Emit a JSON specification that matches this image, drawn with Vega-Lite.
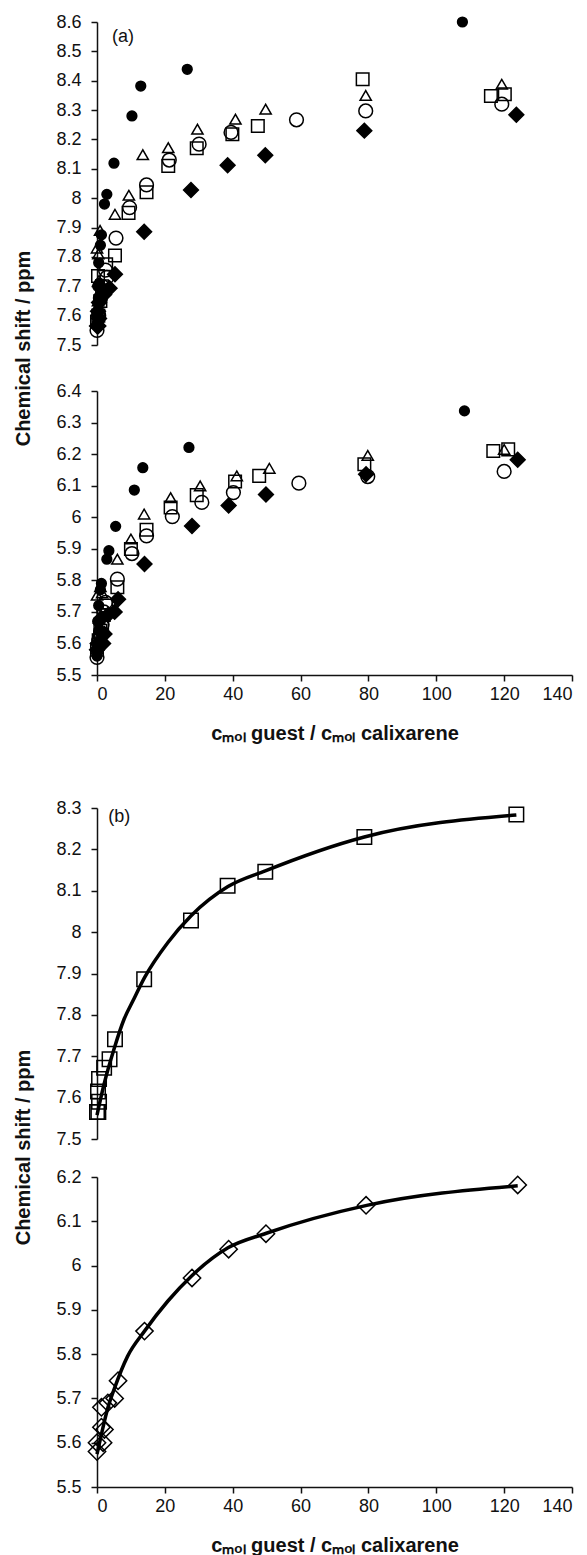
{
  "$schema": "https://vega.github.io/schema/vega-lite/v6.json",
  "background": "white",
  "padding": {"left": 13, "top": 13, "right": 5, "bottom": 0},
  "spacing": 56,
  "config": {
    "view": {"stroke": null},
    "font": "Liberation Sans",
    "axis": {
      "grid": false,
      "domainColor": "#111",
      "domainWidth": 1.5,
      "tickColor": "#111",
      "tickWidth": 1.5,
      "tickSize": 6,
      "labelFont": "Liberation Sans",
      "labelFontSize": 18,
      "labelColor": "#111",
      "titleFont": "Liberation Sans",
      "titleFontSize": 20,
      "titleFontWeight": "bold",
      "titleColor": "#111"
    },
    "axisY": {"labelPadding": 10},
    "axisX": {"labelPadding": 4, "titlePadding": 20}
  },
  "datasets": {
    "a_up": [
      {"x":0,"y":7.565,"s":"fd"},{"x":0.4,"y":7.565,"s":"fd"},{"x":0.6,"y":7.59,"s":"fd"},{"x":0.3,"y":7.615,"s":"fd"},{"x":0.6,"y":7.645,"s":"fd"},{"x":2.1,"y":7.672,"s":"fd"},{"x":3.7,"y":7.693,"s":"fd"},{"x":5.3,"y":7.741,"s":"fd"},{"x":13.9,"y":7.886,"s":"fd"},{"x":27.7,"y":8.028,"s":"fd"},{"x":38.5,"y":8.112,"s":"fd"},{"x":49.6,"y":8.146,"s":"fd"},{"x":78.8,"y":8.23,"s":"fd"},{"x":123.6,"y":8.284,"s":"fd"},
      {"x":0,"y":7.58,"s":"os"},{"x":0.4,"y":7.6,"s":"os"},{"x":1,"y":7.65,"s":"os"},{"x":1.5,"y":7.7,"s":"os"},{"x":0.3,"y":7.735,"s":"os"},{"x":2.7,"y":7.775,"s":"os"},{"x":5.3,"y":7.805,"s":"os"},{"x":9.3,"y":7.95,"s":"os"},{"x":14.6,"y":8.02,"s":"os"},{"x":21,"y":8.11,"s":"os"},{"x":29.4,"y":8.17,"s":"os"},{"x":39.9,"y":8.218,"s":"os"},{"x":47.4,"y":8.246,"s":"os"},{"x":78.3,"y":8.405,"s":"os"},{"x":116.1,"y":8.348,"s":"os"},{"x":120.2,"y":8.354,"s":"os"},
      {"x":0,"y":7.55,"s":"oc"},{"x":0.5,"y":7.6,"s":"oc"},{"x":1,"y":7.66,"s":"oc"},{"x":1.5,"y":7.7,"s":"oc"},{"x":2.9,"y":7.73,"s":"oc"},{"x":2.5,"y":7.755,"s":"oc"},{"x":5.6,"y":7.864,"s":"oc"},{"x":9.6,"y":7.968,"s":"oc"},{"x":14.6,"y":8.045,"s":"oc"},{"x":21.3,"y":8.13,"s":"oc"},{"x":30.1,"y":8.184,"s":"oc"},{"x":39.5,"y":8.224,"s":"oc"},{"x":58.8,"y":8.267,"s":"oc"},{"x":79.2,"y":8.297,"s":"oc"},{"x":119.3,"y":8.32,"s":"oc"},
      {"x":0,"y":7.58,"s":"ot"},{"x":0.3,"y":7.65,"s":"ot"},{"x":0.6,"y":7.72,"s":"ot"},{"x":0.4,"y":7.81,"s":"ot"},{"x":0,"y":7.83,"s":"ot"},{"x":0.9,"y":7.89,"s":"ot"},{"x":5.3,"y":7.945,"s":"ot"},{"x":9.4,"y":8.01,"s":"ot"},{"x":13.5,"y":8.148,"s":"ot"},{"x":21,"y":8.172,"s":"ot"},{"x":29.6,"y":8.235,"s":"ot"},{"x":40.8,"y":8.269,"s":"ot"},{"x":49.7,"y":8.303,"s":"ot"},{"x":79.2,"y":8.35,"s":"ot"},{"x":119.3,"y":8.388,"s":"ot"},
      {"x":0,"y":7.57,"s":"fc"},{"x":0.3,"y":7.6,"s":"fc"},{"x":0.5,"y":7.66,"s":"fc"},{"x":0.2,"y":7.7,"s":"fc"},{"x":0.7,"y":7.71,"s":"fc"},{"x":0.5,"y":7.78,"s":"fc"},{"x":1,"y":7.84,"s":"fc"},{"x":1.3,"y":7.875,"s":"fc"},{"x":2.2,"y":7.98,"s":"fc"},{"x":2.9,"y":8.013,"s":"fc"},{"x":5,"y":8.119,"s":"fc"},{"x":10.3,"y":8.28,"s":"fc"},{"x":12.9,"y":8.382,"s":"fc"},{"x":26.6,"y":8.439,"s":"fc"},{"x":107.7,"y":8.6,"s":"fc"}
    ],
    "a_lo": [
      {"x":0,"y":5.58,"s":"fd"},{"x":0.2,"y":5.6,"s":"fd"},{"x":1.8,"y":5.6,"s":"fd"},{"x":1.3,"y":5.635,"s":"fd"},{"x":2.2,"y":5.63,"s":"fd"},{"x":1.3,"y":5.68,"s":"fd"},{"x":3.2,"y":5.69,"s":"fd"},{"x":5.2,"y":5.7,"s":"fd"},{"x":6.2,"y":5.74,"s":"fd"},{"x":14,"y":5.852,"s":"fd"},{"x":28,"y":5.972,"s":"fd"},{"x":38.8,"y":6.037,"s":"fd"},{"x":49.8,"y":6.072,"s":"fd"},{"x":79.3,"y":6.136,"s":"fd"},{"x":124,"y":6.182,"s":"fd"},
      {"x":0,"y":5.58,"s":"os"},{"x":0.5,"y":5.61,"s":"os"},{"x":1,"y":5.64,"s":"os"},{"x":1.5,"y":5.66,"s":"os"},{"x":2,"y":5.69,"s":"os"},{"x":2.7,"y":5.72,"s":"os"},{"x":6,"y":5.778,"s":"os"},{"x":10,"y":5.899,"s":"os"},{"x":14.6,"y":5.96,"s":"os"},{"x":21.7,"y":6.031,"s":"os"},{"x":29.4,"y":6.07,"s":"os"},{"x":40.7,"y":6.113,"s":"os"},{"x":47.8,"y":6.131,"s":"os"},{"x":78.8,"y":6.168,"s":"os"},{"x":116.8,"y":6.21,"s":"os"},{"x":121.2,"y":6.215,"s":"os"},
      {"x":0,"y":5.556,"s":"oc"},{"x":0.5,"y":5.61,"s":"oc"},{"x":1,"y":5.63,"s":"oc"},{"x":1.5,"y":5.66,"s":"oc"},{"x":2,"y":5.7,"s":"oc"},{"x":2.5,"y":5.73,"s":"oc"},{"x":6,"y":5.804,"s":"oc"},{"x":10.3,"y":5.885,"s":"oc"},{"x":14.6,"y":5.941,"s":"oc"},{"x":22.2,"y":6.002,"s":"oc"},{"x":30.9,"y":6.047,"s":"oc"},{"x":40.2,"y":6.078,"s":"oc"},{"x":59.5,"y":6.108,"s":"oc"},{"x":79.8,"y":6.129,"s":"oc"},{"x":120,"y":6.145,"s":"oc"},
      {"x":0,"y":5.59,"s":"ot"},{"x":0.3,"y":5.63,"s":"ot"},{"x":0.6,"y":5.68,"s":"ot"},{"x":0,"y":5.753,"s":"ot"},{"x":1.5,"y":5.76,"s":"ot"},{"x":1,"y":5.78,"s":"ot"},{"x":6,"y":5.867,"s":"ot"},{"x":10,"y":5.931,"s":"ot"},{"x":13.9,"y":6.01,"s":"ot"},{"x":21.7,"y":6.062,"s":"ot"},{"x":30.4,"y":6.099,"s":"ot"},{"x":41.2,"y":6.131,"s":"ot"},{"x":50.8,"y":6.155,"s":"ot"},{"x":79.8,"y":6.196,"s":"ot"},{"x":120,"y":6.215,"s":"ot"},
      {"x":0,"y":5.56,"s":"fc"},{"x":0.3,"y":5.6,"s":"fc"},{"x":0.5,"y":5.64,"s":"fc"},{"x":0.2,"y":5.67,"s":"fc"},{"x":0.8,"y":5.67,"s":"fc"},{"x":0.5,"y":5.72,"s":"fc"},{"x":1,"y":5.77,"s":"fc"},{"x":1.3,"y":5.79,"s":"fc"},{"x":2.9,"y":5.867,"s":"fc"},{"x":3.5,"y":5.894,"s":"fc"},{"x":5.5,"y":5.971,"s":"fc"},{"x":11,"y":6.086,"s":"fc"},{"x":13.5,"y":6.157,"s":"fc"},{"x":27.1,"y":6.221,"s":"fc"},{"x":108.3,"y":6.337,"s":"fc"}
    ],
    "b_up": [
      {"x":0,"y":7.565},{"x":0.4,"y":7.565},{"x":0.6,"y":7.59},{"x":0.3,"y":7.615},{"x":0.6,"y":7.645},{"x":2.1,"y":7.672},{"x":3.7,"y":7.693},{"x":5.3,"y":7.741},{"x":13.9,"y":7.886},{"x":27.7,"y":8.028},{"x":38.5,"y":8.112},{"x":49.6,"y":8.146},{"x":78.8,"y":8.23},{"x":123.6,"y":8.284}
    ],
    "b_up_fit": [
      {"x":0,"y":7.558},{"x":2,"y":7.63},{"x":5.3,"y":7.725},{"x":8,"y":7.79},{"x":10.6,"y":7.834},{"x":14,"y":7.89},{"x":20.9,"y":7.975},{"x":27.8,"y":8.04},{"x":38.6,"y":8.11},{"x":49.6,"y":8.148},{"x":78.8,"y":8.23},{"x":123.6,"y":8.283}
    ],
    "b_lo": [
      {"x":0,"y":5.58},{"x":0,"y":5.6},{"x":1.8,"y":5.6},{"x":1.3,"y":5.635},{"x":2.2,"y":5.63},{"x":1.3,"y":5.68},{"x":3.2,"y":5.69},{"x":5.2,"y":5.7},{"x":6.2,"y":5.74},{"x":14,"y":5.852},{"x":28,"y":5.972},{"x":38.8,"y":6.037},{"x":49.8,"y":6.072},{"x":79.3,"y":6.136},{"x":124,"y":6.182}
    ],
    "b_lo_fit": [
      {"x":0,"y":5.574},{"x":1.3,"y":5.619},{"x":3.2,"y":5.679},{"x":5.2,"y":5.724},{"x":9,"y":5.795},{"x":14,"y":5.852},{"x":20.9,"y":5.92},{"x":27.8,"y":5.976},{"x":38.6,"y":6.04},{"x":49.9,"y":6.073},{"x":79.5,"y":6.136},{"x":124,"y":6.18}
    ]
  },
  "vconcat": [
    {
      "bounds": "flush",
      "spacing": 46,
      "vconcat": [
        {
          "width": 475,
          "height": 323,
          "encoding": {
            "x": {"field": "x", "type": "quantitative", "scale": {"domain": [0, 140], "nice": false}, "axis": null},
            "y": {"field": "y", "type": "quantitative", "scale": {"domain": [7.5, 8.6], "nice": false, "zero": false},
                  "axis": {"values": [7.5,7.6,7.7,7.8,7.9,8,8.1,8.2,8.3,8.4,8.5,8.6], "format": "~g", "title": "Chemical shift / ppm", "titleX": -64, "titleY": 326, "titleBaseline": "bottom"}}
          },
          "layer": [
            {
              "data": {"name": "a_up"},
              "mark": {"type": "point", "opacity": 1, "stroke": "#000", "strokeWidth": 1.5},
              "encoding": {
                "shape": {"field": "s", "type": "nominal", "scale": {"domain": ["fc","ot","os","oc","fd"], "range": ["circle","triangle-up","square","circle","diamond"]}, "legend": null},
                "fill": {"field": "s", "type": "nominal", "scale": {"domain": ["fc","ot","os","oc","fd"], "range": ["#000","transparent","transparent","transparent","#000"]}, "legend": null},
                "size": {"field": "s", "type": "ordinal", "scale": {"domain": ["fc","ot","os","oc","fd"], "range": [95, 220, 200, 130, 220]}, "legend": null}
              }
            },
            {
              "data": {"values": [{"x": 4.4, "y": 8.549, "t": "(a)"}]},
              "mark": {"type": "text", "align": "left", "baseline": "middle", "fontSize": 18, "font": "Liberation Sans", "color": "#111"},
              "encoding": {"text": {"field": "t"}}
            }
          ]
        },
        {
          "width": 475,
          "height": 284,
          "data": {"name": "a_lo"},
          "mark": {"type": "point", "opacity": 1, "stroke": "#000", "strokeWidth": 1.5},
          "encoding": {
            "x": {"field": "x", "type": "quantitative", "scale": {"domain": [0, 140], "nice": false},
                  "axis": {"values": [0,20,40,60,80,100,120,140], "title": "cₘₒₗ guest / cₘₒₗ calixarene"}},
            "y": {"field": "y", "type": "quantitative", "scale": {"domain": [5.5, 6.4], "nice": false, "zero": false},
                  "axis": {"values": [5.5,5.6,5.7,5.8,5.9,6,6.1,6.2,6.3,6.4], "format": "~g", "title": null}},
            "shape": {"field": "s", "type": "nominal", "scale": {"domain": ["fc","ot","os","oc","fd"], "range": ["circle","triangle-up","square","circle","diamond"]}, "legend": null},
            "fill": {"field": "s", "type": "nominal", "scale": {"domain": ["fc","ot","os","oc","fd"], "range": ["#000","transparent","transparent","transparent","#000"]}, "legend": null},
            "size": {"field": "s", "type": "ordinal", "scale": {"domain": ["fc","ot","os","oc","fd"], "range": [95, 220, 200, 130, 220]}, "legend": null}
          }
        }
      ]
    },
    {
      "bounds": "flush",
      "spacing": 38,
      "vconcat": [
        {
          "width": 475,
          "height": 331,
          "encoding": {
            "x": {"field": "x", "type": "quantitative", "scale": {"domain": [0, 140], "nice": false}, "axis": null},
            "y": {"field": "y", "type": "quantitative", "scale": {"domain": [7.5, 8.3], "nice": false, "zero": false},
                  "axis": {"values": [7.5,7.6,7.7,7.8,7.9,8,8.1,8.2,8.3], "format": "~g", "title": "Chemical shift / ppm", "titleX": -64, "titleY": 339, "titleBaseline": "bottom"}}
          },
          "layer": [
            {
              "data": {"name": "b_up_fit"},
              "mark": {"type": "line", "color": "#000", "strokeWidth": 3.5, "interpolate": "monotone"}
            },
            {
              "data": {"name": "b_up"},
              "mark": {"type": "point", "shape": "square", "size": 210, "opacity": 1, "stroke": "#000", "strokeWidth": 1.5, "fill": "transparent"}
            },
            {
              "data": {"values": [{"x": 3.3, "y": 8.278, "t": "(b)"}]},
              "mark": {"type": "text", "align": "left", "baseline": "middle", "fontSize": 18, "font": "Liberation Sans", "color": "#111"},
              "encoding": {"text": {"field": "t"}}
            }
          ]
        },
        {
          "width": 475,
          "height": 310,
          "encoding": {
            "x": {"field": "x", "type": "quantitative", "scale": {"domain": [0, 140], "nice": false},
                  "axis": {"values": [0,20,40,60,80,100,120,140], "title": "cₘₒₗ guest / cₘₒₗ calixarene"}},
            "y": {"field": "y", "type": "quantitative", "scale": {"domain": [5.5, 6.2], "nice": false, "zero": false},
                  "axis": {"values": [5.5,5.6,5.7,5.8,5.9,6,6.1,6.2], "format": "~g", "title": null}}
          },
          "layer": [
            {
              "data": {"name": "b_lo_fit"},
              "mark": {"type": "line", "color": "#000", "strokeWidth": 3.5, "interpolate": "monotone"}
            },
            {
              "data": {"name": "b_lo"},
              "mark": {"type": "point", "shape": "diamond", "size": 300, "opacity": 1, "stroke": "#000", "strokeWidth": 1.5, "fill": "transparent"}
            }
          ]
        }
      ]
    }
  ]
}
